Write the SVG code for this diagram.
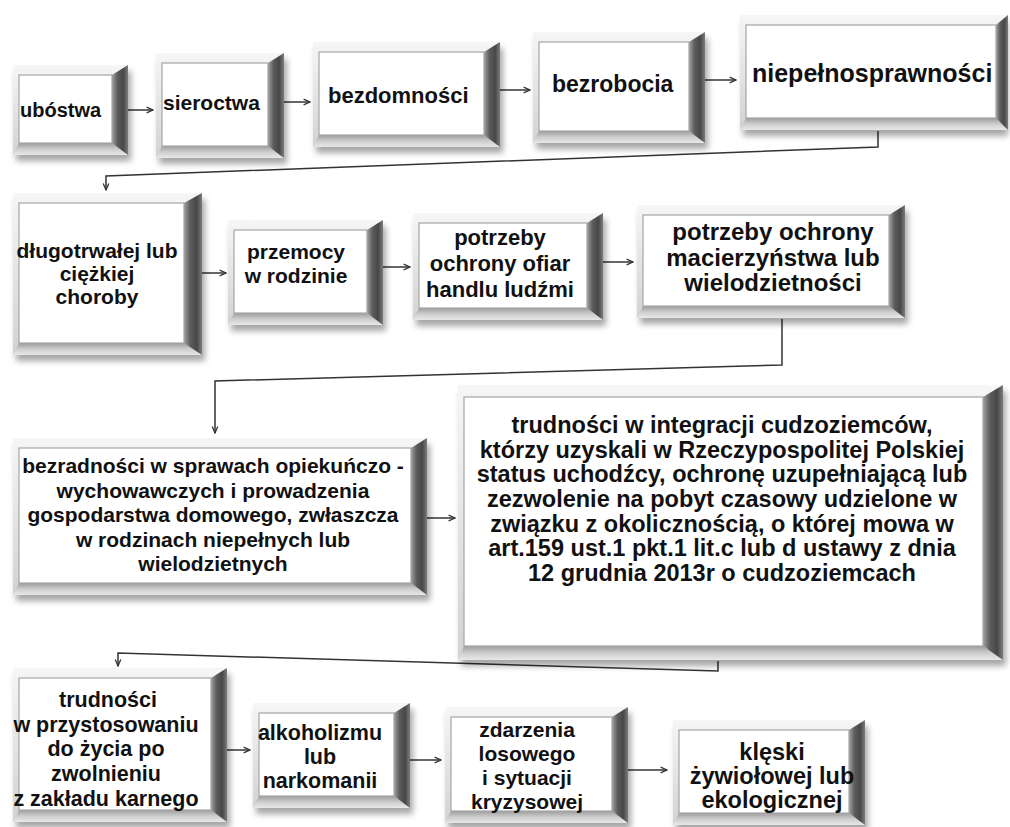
<svg xmlns="http://www.w3.org/2000/svg" width="1010" height="827" viewBox="0 0 1010 827">
<defs>
<linearGradient id="gFrame" x1="0" y1="0" x2="0" y2="1"><stop offset="0" stop-color="#f6f6f6"/><stop offset="0.5" stop-color="#e4e4e4"/><stop offset="1" stop-color="#d2d2d2"/></linearGradient>
<linearGradient id="gBot" x1="0" y1="0" x2="0" y2="1"><stop offset="0" stop-color="#9c9c9c"/><stop offset="0.5" stop-color="#cdcdcd"/><stop offset="1" stop-color="#e8e8e8"/></linearGradient>
<linearGradient id="gRight" x1="0" y1="0" x2="1" y2="0"><stop offset="0" stop-color="#a0a0a0"/><stop offset="0.35" stop-color="#5c5c5c"/><stop offset="0.7" stop-color="#474747"/><stop offset="1" stop-color="#7c7c7c"/></linearGradient>
<filter id="blur" x="-10%" y="-10%" width="120%" height="130%"><feGaussianBlur stdDeviation="3"/></filter>
<marker id="ah" viewBox="0 0 10 10" refX="9" refY="5" markerWidth="8" markerHeight="8" markerUnits="userSpaceOnUse" orient="auto"><path d="M1,1.5 L9,5 L1,8.5" fill="none" stroke="#333" stroke-width="1.6"/></marker>
</defs>
<style>
.sh{fill:#000;opacity:.35;filter:url(#blur)}
.fr{fill:url(#gFrame)}
.bt{fill:url(#gBot)}
.rt{fill:url(#gRight)}
.in{fill:#fff;stroke:#a6a6a6;stroke-width:1.2}
text{font-family:"Liberation Sans",Arial,sans-serif;font-weight:bold;fill:#111}
.c{text-anchor:middle}
.con{fill:none;stroke:#333;stroke-width:1.5;marker-end:url(#ah)}
</style>
<rect width="1010" height="827" fill="#fff"/>

<g id="connectors">
<line class="con" x1="128" y1="110" x2="153" y2="110"/>
<line class="con" x1="284" y1="102" x2="310" y2="102"/>
<line class="con" x1="500" y1="90" x2="530" y2="90"/>
<line class="con" x1="705" y1="80" x2="736" y2="80"/>
<polyline class="con" points="878,131 878,147 106,176 106,190"/>
<line class="con" x1="202" y1="273" x2="226" y2="273"/>
<line class="con" x1="383" y1="267" x2="410" y2="267"/>
<line class="con" x1="603" y1="262" x2="633" y2="262"/>
<polyline class="con" points="782,319 782,365 215,381 215,433"/>
<line class="con" x1="427" y1="518" x2="455" y2="518"/>
<polyline class="con" points="718,661 718,671 118,653 118,666"/>
<line class="con" x1="227" y1="750" x2="250" y2="750"/>
<line class="con" x1="410" y1="760" x2="441" y2="760"/>
<line class="con" x1="628" y1="770" x2="667" y2="770"/>
</g>

<g id="n1">
<rect class="sh" x="16" y="71" width="115" height="90"/>
<rect class="fr" x="13" y="65" width="115" height="90"/>
<polygon class="bt" points="13,155 128,155 112,143 19,143"/>
<polygon class="rt" points="128,65 128,155 112,143 112,75"/>
<rect class="in" x="19" y="75" width="93" height="68"/>
<text x="20" y="117" font-size="20">ubóstwa</text>
</g>

<g id="n2">
<rect class="sh" x="159" y="59" width="128" height="105"/>
<rect class="fr" x="156" y="53" width="128" height="105"/>
<polygon class="bt" points="156,158 284,158 268,146 162,146"/>
<polygon class="rt" points="284,53 284,158 268,146 268,63"/>
<rect class="in" x="162" y="63" width="106" height="83"/>
<text x="163" y="110" font-size="21">sieroctwa</text>
</g>

<g id="n3">
<rect class="sh" x="316" y="48" width="187" height="105"/>
<rect class="fr" x="313" y="42" width="187" height="105"/>
<polygon class="bt" points="313,147 500,147 484,135 319,135"/>
<polygon class="rt" points="500,42 500,147 484,135 484,52"/>
<rect class="in" x="319" y="52" width="165" height="83"/>
<text x="328" y="103" font-size="22">bezdomności</text>
</g>

<g id="n4">
<rect class="sh" x="536" y="38" width="172" height="111"/>
<rect class="fr" x="533" y="32" width="172" height="111"/>
<polygon class="bt" points="533,143 705,143 689,131 539,131"/>
<polygon class="rt" points="705,32 705,143 689,131 689,42"/>
<rect class="in" x="539" y="42" width="150" height="89"/>
<text x="552" y="92" font-size="23">bezrobocia</text>
</g>

<g id="n5">
<rect class="sh" x="743" y="21" width="265" height="115"/>
<rect class="fr" x="740" y="15" width="268" height="115"/>
<polygon class="bt" points="740,130 1008,130 996,118 746,118"/>
<polygon class="rt" points="1008,15 1008,130 996,118 996,25"/>
<rect class="in" x="746" y="25" width="250" height="93"/>
<text x="752" y="82" font-size="25">niepełnosprawności</text>
</g>

<g id="n6">
<rect class="sh" x="16" y="199" width="189" height="162"/>
<rect class="fr" x="13" y="193" width="189" height="162"/>
<polygon class="bt" points="13,355 202,355 184,343 19,343"/>
<polygon class="rt" points="202,193 202,355 184,343 184,203"/>
<rect class="in" x="19" y="203" width="165" height="140"/>
<text class="c" x="97" font-size="21"><tspan x="97" y="258">długotrwałej lub</tspan><tspan x="97" y="281">ciężkiej</tspan><tspan x="97" y="304">choroby</tspan></text>
</g>

<g id="n7">
<rect class="sh" x="231" y="226" width="155" height="105"/>
<rect class="fr" x="228" y="220" width="155" height="105"/>
<polygon class="bt" points="228,325 383,325 367,313 234,313"/>
<polygon class="rt" points="383,220 383,325 367,313 367,230"/>
<rect class="in" x="234" y="230" width="133" height="83"/>
<text class="c" x="296" font-size="21"><tspan x="296" y="259">przemocy</tspan><tspan x="296" y="283">w rodzinie</tspan></text>
</g>

<g id="n8">
<rect class="sh" x="416" y="219" width="190" height="107"/>
<rect class="fr" x="413" y="213" width="190" height="107"/>
<polygon class="bt" points="413,320 603,320 587,308 419,308"/>
<polygon class="rt" points="603,213 603,320 587,308 587,223"/>
<rect class="in" x="419" y="223" width="168" height="85"/>
<text class="c" x="500" font-size="22"><tspan x="500" y="245">potrzeby</tspan><tspan x="500" y="271">ochrony ofiar</tspan><tspan x="500" y="297">handlu ludźmi</tspan></text>
</g>

<g id="n9">
<rect class="sh" x="640" y="211" width="268" height="113"/>
<rect class="fr" x="637" y="205" width="268" height="113"/>
<polygon class="bt" points="637,318 905,318 889,306 643,306"/>
<polygon class="rt" points="905,205 905,318 889,306 889,215"/>
<rect class="in" x="643" y="215" width="246" height="91"/>
<text class="c" x="773" font-size="24"><tspan x="773" y="240">potrzeby ochrony</tspan><tspan x="773" y="266">macierzyństwa lub</tspan><tspan x="773" y="291">wielodzietności</tspan></text>
</g>

<g id="n10">
<rect class="sh" x="16" y="444" width="414" height="157"/>
<rect class="fr" x="13" y="438" width="414" height="157"/>
<polygon class="bt" points="13,595 427,595 411,583 19,583"/>
<polygon class="rt" points="427,438 427,595 411,583 411,448"/>
<rect class="in" x="19" y="448" width="392" height="135"/>
<text class="c" x="213" font-size="21"><tspan x="213" y="473">bezradności w sprawach opiekuńczo -</tspan><tspan x="213" y="498">wychowawczych i prowadzenia</tspan><tspan x="213" y="522">gospodarstwa domowego, zwłaszcza</tspan><tspan x="213" y="547">w rodzinach niepełnych lub</tspan><tspan x="213" y="571">wielodzietnych</tspan></text>
</g>

<g id="n11">
<rect class="sh" x="461" y="391" width="545" height="275"/>
<rect class="fr" x="458" y="385" width="545" height="275"/>
<polygon class="bt" points="458,660 1003,660 983,646 464,646"/>
<polygon class="rt" points="1003,385 1003,660 983,646 983,397"/>
<rect class="in" x="464" y="397" width="519" height="249"/>
<text class="c" x="722" font-size="23.5"><tspan x="722" y="433">trudności w integracji cudzoziemców,</tspan><tspan x="722" y="458">którzy uzyskali w Rzeczypospolitej Polskiej</tspan><tspan x="722" y="482">status uchodźcy, ochronę uzupełniającą lub</tspan><tspan x="722" y="507">zezwolenie na pobyt czasowy udzielone w</tspan><tspan x="722" y="532">związku z okolicznością, o której mowa w</tspan><tspan x="722" y="556">art.159 ust.1 pkt.1 lit.c lub d ustawy z dnia</tspan><tspan x="722" y="581">12 grudnia 2013r o cudzoziemcach</tspan></text>
</g>

<g id="n12">
<rect class="sh" x="16" y="674" width="214" height="154"/>
<rect class="fr" x="13" y="668" width="214" height="154"/>
<polygon class="bt" points="13,822 227,822 211,810 19,810"/>
<polygon class="rt" points="227,668 227,822 211,810 211,678"/>
<rect class="in" x="19" y="678" width="192" height="132"/>
<text class="c" x="106" font-size="21.5"><tspan x="108" y="707">trudności</tspan><tspan x="106" y="732">w przystosowaniu</tspan><tspan x="106" y="756">do życia po</tspan><tspan x="106" y="781">zwolnieniu</tspan><tspan x="106" y="806">z zakładu karnego</tspan></text>
</g>

<g id="n13">
<rect class="sh" x="256" y="709" width="157" height="105"/>
<rect class="fr" x="253" y="703" width="157" height="105"/>
<polygon class="bt" points="253,808 410,808 394,796 259,796"/>
<polygon class="rt" points="410,703 410,808 394,796 394,713"/>
<rect class="in" x="259" y="713" width="135" height="83"/>
<text class="c" x="320" font-size="21.5"><tspan x="320" y="740">alkoholizmu</tspan><tspan x="320" y="764">lub</tspan><tspan x="320" y="788">narkomanii</tspan></text>
</g>

<g id="n14">
<rect class="sh" x="448" y="713" width="183" height="116"/>
<rect class="fr" x="445" y="707" width="183" height="116"/>
<polygon class="bt" points="445,823 628,823 612,811 451,811"/>
<polygon class="rt" points="628,707 628,823 612,811 612,717"/>
<rect class="in" x="451" y="717" width="161" height="94"/>
<text class="c" x="527" font-size="21"><tspan x="527" y="737">zdarzenia</tspan><tspan x="527" y="761">losowego</tspan><tspan x="527" y="785">i sytuacji</tspan><tspan x="527" y="809">kryzysowej</tspan></text>
</g>

<g id="n15">
<rect class="sh" x="676" y="726" width="192" height="105"/>
<rect class="fr" x="673" y="720" width="192" height="105"/>
<polygon class="bt" points="673,825 865,825 849,813 679,813"/>
<polygon class="rt" points="865,720 865,825 849,813 849,730"/>
<rect class="in" x="679" y="730" width="170" height="83"/>
<text class="c" x="772" font-size="23.5"><tspan x="772" y="760">klęski</tspan><tspan x="772" y="784">żywiołowej lub</tspan><tspan x="772" y="808">ekologicznej</tspan></text>
</g>
</svg>
